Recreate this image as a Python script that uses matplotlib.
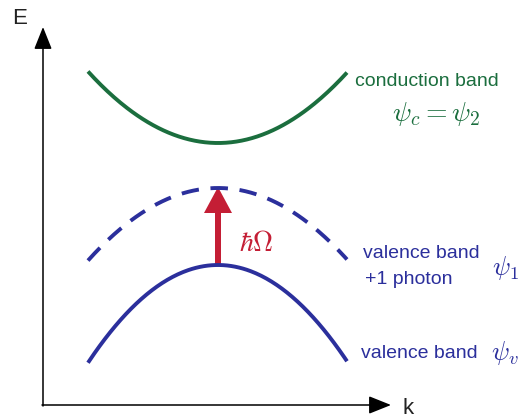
import numpy as np
import matplotlib
matplotlib.use("Agg")
import matplotlib.pyplot as plt

plt.rcParams["font.family"] = ["Liberation Sans", "DejaVu Sans"]
plt.rcParams["mathtext.fontset"] = "cm"

# ── 밴드 파라미터 (픽셀 좌표, y 아래로 증가) ──────────────────────────────
k_range = [88, 347]          # 곡선 좌우 끝
k_center = 218
band_names = ["conduction", "photon", "valence"]
band_apex = [143, 188, 265]  # 꼭짓점 높이
band_edge = [72, 260, 362]   # 양 끝 높이
band_colors = ["#1b6e3e", "#2b2f9c", "#2b2f9c"]
band_styles = ["-", "--", "-"]

GREEN = "#1b6e3e"
BLUE = "#2b2f9c"
RED = "#c41e35"

fig = plt.figure(figsize=(5.2, 4.2), dpi=100)
ax = fig.add_axes([0, 0, 1, 1])
ax.set_xlim(0, 520)
ax.set_ylim(420, 0)
ax.axis("off")

k = np.linspace(k_range[0], k_range[1], 200)
half = (k_range[1] - k_range[0]) / 2
for apex, edge, col, ls in zip(band_apex, band_edge, band_colors, band_styles):
    e = apex + (edge - apex) * ((k - k_center) / half) ** 2
    line, = ax.plot(k, e, color=col, lw=2.8, ls=ls, solid_capstyle="butt")
    if ls == "--":
        line.set_dashes((4.5, 3.0))

# 좌표축
ax_arrow = dict(arrowstyle="-|>,head_length=0.55,head_width=0.22",
                mutation_scale=25, color="black", lw=1.1, shrinkA=0, shrinkB=0)
ax.annotate("", xy=(43, 27), xytext=(43, 406), arrowprops=ax_arrow)
ax.annotate("", xy=(391, 405), xytext=(42, 405), arrowprops=ax_arrow)
ax.text(12, 18, "E", fontsize=16, ha="left", va="center", color="#222222")
ax.text(403, 408, "k", fontsize=16, ha="left", va="center", color="#222222")

# 광자 흡수 화살표
ax.arrow(k_center, band_apex[2], 0, band_apex[1] - band_apex[2] - 1,
         width=6, head_width=28, head_length=26, length_includes_head=True,
         color=RED, lw=0)
ax.text(239, 244, r"$\hbar\Omega$", fontsize=20, color=RED, ha="left", va="center")

# 라벨
ax.text(427, 82, "conduction band", fontsize=14, color=GREEN, ha="center", va="center")
ax.text(436, 114, r"$\psi_c = \psi_2$", fontsize=20, color=GREEN, ha="center", va="center")
ax.text(421, 254, "valence band", fontsize=14, color=BLUE, ha="center", va="center")
ax.text(409, 280, "+1 photon", fontsize=14, color=BLUE, ha="center", va="center")
ax.text(492, 268, r"$\psi_1$", fontsize=19, color=BLUE, ha="left", va="center")
ax.text(419, 353, "valence band", fontsize=14, color=BLUE, ha="center", va="center")
ax.text(491, 353, r"$\psi_v$", fontsize=19, color=BLUE, ha="left", va="center")

fig.savefig("out.png", dpi=100)
plt.close(fig)
